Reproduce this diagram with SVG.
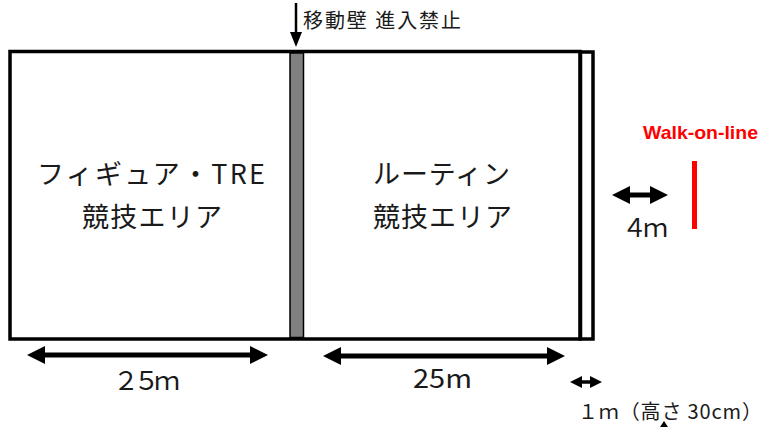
<svg xmlns="http://www.w3.org/2000/svg" width="763" height="427" viewBox="0 0 763 427">
<style>
.t{font-family:"Noto Sans CJK JP","Liberation Sans",sans-serif;fill:#1a1a1a}
.dim{stroke:#000;stroke-width:5;fill:none}
</style>
<defs>
<marker id="ah" markerUnits="userSpaceOnUse" viewBox="0 0 18 18" markerWidth="18" markerHeight="18" refX="0" refY="9" orient="auto-start-reverse">
<path d="M0,0 L18,9 L0,18 z" fill="#000"/>
</marker>
<marker id="ahs" markerUnits="userSpaceOnUse" viewBox="0 0 12 12" markerWidth="12" markerHeight="12" refX="0" refY="6" orient="auto-start-reverse">
<path d="M0,0 L12,6 L0,12 z" fill="#000"/>
</marker>
</defs>
<rect width="763" height="427" fill="#fff"/>
<g id="field">
<rect x="10" y="51.5" width="570" height="287.5" fill="#fff" stroke="#000" stroke-width="3.5"/>
</g>
<g id="wall">
<rect x="290" y="53" width="13.5" height="284.5" fill="#808080" stroke="#000" stroke-width="1.5"/>
</g>
<g id="strip">
<rect x="580.5" y="52" width="12.5" height="287" fill="#fff" stroke="#000" stroke-width="3.5"/>
</g>
<g id="walk-on-line">
<line x1="694.5" y1="161" x2="694.5" y2="229" stroke="#ff0000" stroke-width="5"/>
<text x="643" y="139" font-family="Liberation Sans,sans-serif" font-weight="bold" font-size="19" fill="#ff0000" textLength="115" lengthAdjust="spacingAndGlyphs">Walk-on-line</text>
</g>
<g id="labels">
<text class="t" x="303" y="28" font-size="20" textLength="158">移動壁 進入禁止</text>
<text class="t" x="37" y="184" font-size="27" textLength="228">フィギュア・TRE</text>
<text class="t" x="82" y="227" font-size="27" textLength="140">競技エリア</text>
<text class="t" x="373" y="184" font-size="27" textLength="137">ルーティン</text>
<text class="t" x="373" y="227" font-size="27" textLength="139">競技エリア</text>
<text class="t" x="113" y="390" font-size="26" textLength="67">２５ｍ</text>
<text class="t" x="413" y="388" font-size="26" textLength="59" lengthAdjust="spacingAndGlyphs">25m</text>
<text class="t" x="622" y="237" font-size="25" textLength="46">４ｍ</text>
<text class="t" x="578" y="419" font-size="20" textLength="184">１ｍ（高さ 30cm）</text>
</g>
<g id="connectors">
<line x1="296" y1="3" x2="296" y2="33" stroke="#000" stroke-width="2.5"/>
<path d="M290,32 L302,32 L296,47 z" fill="#000"/>
<line class="dim" x1="45" y1="355" x2="250" y2="355" marker-start="url(#ah)" marker-end="url(#ah)"/>
<line class="dim" x1="341" y1="356" x2="547" y2="356" marker-start="url(#ah)" marker-end="url(#ah)"/>
<line class="dim" x1="630" y1="195" x2="650" y2="195" marker-start="url(#ah)" marker-end="url(#ah)"/>
<line x1="582" y1="382" x2="590" y2="382" stroke="#000" stroke-width="3.5" marker-start="url(#ahs)" marker-end="url(#ahs)"/>
<path d="M660,427 L664,421 L668,427 z" fill="#000"/>
</g>
</svg>
